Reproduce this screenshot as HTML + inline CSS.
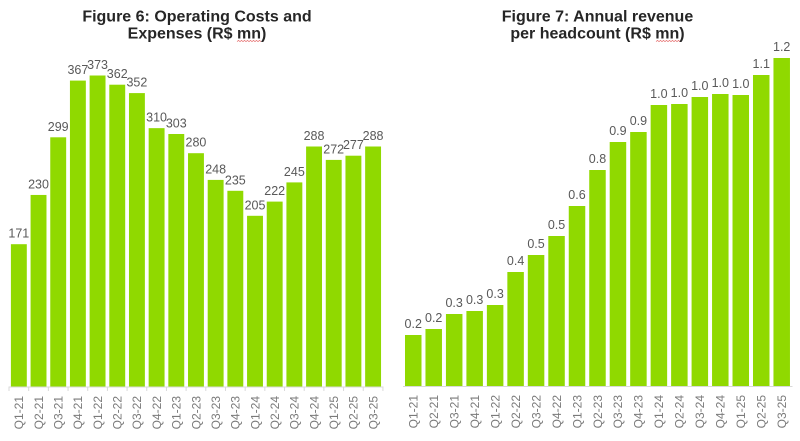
<!DOCTYPE html>
<html>
<head>
<meta charset="utf-8">
<style>
  html,body{margin:0;padding:0;background:#fff;}
  svg{display:block;}
  .t{font-family:"Liberation Sans",Arial,sans-serif;font-weight:bold;font-size:16px;fill:#262626;}
  .v{font-family:"Liberation Sans",Arial,sans-serif;font-size:12.5px;fill:#595959;}
  .x{font-family:"Liberation Sans",Arial,sans-serif;font-size:12px;fill:#7a7a7a;}
  .b{fill:#90d900;}
</style>
</head>
<body>
<svg width="800" height="441" viewBox="0 0 800 441" xmlns="http://www.w3.org/2000/svg">
  <!-- Titles -->
  <text class="t" x="197" y="21.5" text-anchor="middle">Figure 6: Operating Costs and</text>
  <text class="t" x="197" y="38.5" text-anchor="middle">Expenses (R$ mn)</text>
  <polyline points="237,41.5 238.5,40.5 240,41.5 241.5,40.5 243,41.5 244.5,40.5 246,41.5 247.5,40.5 249,41.5 250.5,40.5 252,41.5 253.5,40.5 255,41.5 256.5,40.5 258,41.5 259.5,40.5 261,41.5" fill="none" stroke="#e05050" stroke-width="0.7"/>
  <text class="t" x="597.5" y="21.5" text-anchor="middle">Figure 7: Annual revenue</text>
  <text class="t" x="597.5" y="38.5" text-anchor="middle">per headcount (R$ mn)</text>
  <polyline points="656,41.5 657.5,40.5 659,41.5 660.5,40.5 662,41.5 663.5,40.5 665,41.5 666.5,40.5 668,41.5 669.5,40.5 671,41.5 672.5,40.5 674,41.5 675.5,40.5 677,41.5 678.5,40.5 680,41.5" fill="none" stroke="#e05050" stroke-width="0.7"/>

  <!-- Left chart bars -->
  <g class="b">
    <rect x="10.9" y="244.2" width="15.9" height="142.8"/>
    <rect x="30.58" y="194.95" width="15.9" height="192.05"/>
    <rect x="50.26" y="137.3" width="15.9" height="249.7"/>
    <rect x="69.94" y="80.6" width="15.9" height="306.4"/>
    <rect x="89.62" y="75.5" width="15.9" height="311.5"/>
    <rect x="109.3" y="84.7" width="15.9" height="302.3"/>
    <rect x="128.98" y="93.1" width="15.9" height="293.9"/>
    <rect x="148.66" y="128.15" width="15.9" height="258.85"/>
    <rect x="168.34" y="134.0" width="15.9" height="253.0"/>
    <rect x="188.02" y="153.2" width="15.9" height="233.8"/>
    <rect x="207.7" y="179.9" width="15.9" height="207.1"/>
    <rect x="227.38" y="190.8" width="15.9" height="196.2"/>
    <rect x="247.06" y="215.8" width="15.9" height="171.2"/>
    <rect x="266.74" y="201.6" width="15.9" height="185.4"/>
    <rect x="286.42" y="182.4" width="15.9" height="204.6"/>
    <rect x="306.1" y="146.5" width="15.9" height="240.5"/>
    <rect x="325.78" y="159.9" width="15.9" height="227.1"/>
    <rect x="345.46" y="155.7" width="15.9" height="231.3"/>
    <rect x="365.14" y="146.5" width="15.9" height="240.5"/>
  </g>
  <!-- Left chart value labels -->
  <g class="v" text-anchor="middle">
    <text x="18.84" y="237.7">171</text>
    <text x="38.52" y="188.5">230</text>
    <text x="58.2" y="130.8">299</text>
    <text x="77.88" y="74.1">367</text>
    <text x="97.56" y="69">373</text>
    <text x="117.24" y="78.2">362</text>
    <text x="136.92" y="86.6">352</text>
    <text x="156.6" y="121.7">310</text>
    <text x="176.28" y="127.5">303</text>
    <text x="195.96" y="146.7">280</text>
    <text x="215.64" y="173.4">248</text>
    <text x="235.32" y="184.3">235</text>
    <text x="255.0" y="209.3">205</text>
    <text x="274.68" y="195.1">222</text>
    <text x="294.36" y="175.9">245</text>
    <text x="314.04" y="140">288</text>
    <text x="333.72" y="153.4">272</text>
    <text x="353.4" y="149.2">277</text>
    <text x="373.08" y="140">288</text>
  </g>
  <!-- Left axis -->
  <line x1="8.5" y1="387" x2="383.5" y2="387" stroke="#d9d9d9" stroke-width="1"/>
  <g stroke="#d9d9d9" stroke-width="1">
    <line x1="9" y1="387" x2="9" y2="391"/>
    <line x1="28.68" y1="387" x2="28.68" y2="391"/>
    <line x1="48.36" y1="387" x2="48.36" y2="391"/>
    <line x1="68.04" y1="387" x2="68.04" y2="391"/>
    <line x1="87.72" y1="387" x2="87.72" y2="391"/>
    <line x1="107.4" y1="387" x2="107.4" y2="391"/>
    <line x1="127.08" y1="387" x2="127.08" y2="391"/>
    <line x1="146.76" y1="387" x2="146.76" y2="391"/>
    <line x1="166.44" y1="387" x2="166.44" y2="391"/>
    <line x1="186.12" y1="387" x2="186.12" y2="391"/>
    <line x1="205.8" y1="387" x2="205.8" y2="391"/>
    <line x1="225.48" y1="387" x2="225.48" y2="391"/>
    <line x1="245.16" y1="387" x2="245.16" y2="391"/>
    <line x1="264.84" y1="387" x2="264.84" y2="391"/>
    <line x1="284.52" y1="387" x2="284.52" y2="391"/>
    <line x1="304.2" y1="387" x2="304.2" y2="391"/>
    <line x1="323.88" y1="387" x2="323.88" y2="391"/>
    <line x1="343.56" y1="387" x2="343.56" y2="391"/>
    <line x1="363.24" y1="387" x2="363.24" y2="391"/>
    <line x1="382.92" y1="387" x2="382.92" y2="391"/>
  </g>
  <!-- Left x labels -->
  <g class="x" text-anchor="end">
    <text transform="translate(23.1,396) rotate(-90)">Q1-21</text>
    <text transform="translate(42.8,396) rotate(-90)">Q2-21</text>
    <text transform="translate(62.5,396) rotate(-90)">Q3-21</text>
    <text transform="translate(82.2,396) rotate(-90)">Q4-21</text>
    <text transform="translate(101.9,396) rotate(-90)">Q1-22</text>
    <text transform="translate(121.5,396) rotate(-90)">Q2-22</text>
    <text transform="translate(141.2,396) rotate(-90)">Q3-22</text>
    <text transform="translate(160.9,396) rotate(-90)">Q4-22</text>
    <text transform="translate(180.6,396) rotate(-90)">Q1-23</text>
    <text transform="translate(200.3,396) rotate(-90)">Q2-23</text>
    <text transform="translate(219.9,396) rotate(-90)">Q3-23</text>
    <text transform="translate(239.6,396) rotate(-90)">Q4-23</text>
    <text transform="translate(259.3,396) rotate(-90)">Q1-24</text>
    <text transform="translate(279.0,396) rotate(-90)">Q2-24</text>
    <text transform="translate(298.7,396) rotate(-90)">Q3-24</text>
    <text transform="translate(318.3,396) rotate(-90)">Q4-24</text>
    <text transform="translate(338.0,396) rotate(-90)">Q1-25</text>
    <text transform="translate(357.7,396) rotate(-90)">Q2-25</text>
    <text transform="translate(377.4,396) rotate(-90)">Q3-25</text>
  </g>

  <!-- Right chart bars -->
  <g class="b">
    <rect x="405" y="335" width="16.5" height="51"/>
    <rect x="425.47" y="329" width="16.5" height="57"/>
    <rect x="445.94" y="314" width="16.5" height="72"/>
    <rect x="466.41" y="311" width="16.5" height="75"/>
    <rect x="486.88" y="305" width="16.5" height="81"/>
    <rect x="507.35" y="272" width="16.5" height="114"/>
    <rect x="527.82" y="255" width="16.5" height="131"/>
    <rect x="548.29" y="236" width="16.5" height="150"/>
    <rect x="568.76" y="206" width="16.5" height="180"/>
    <rect x="589.23" y="170" width="16.5" height="216"/>
    <rect x="609.7" y="142" width="16.5" height="244"/>
    <rect x="630.17" y="132" width="16.5" height="254"/>
    <rect x="650.64" y="105" width="16.5" height="281"/>
    <rect x="671.11" y="104" width="16.5" height="282"/>
    <rect x="691.58" y="97" width="16.5" height="289"/>
    <rect x="712.05" y="94" width="16.5" height="292"/>
    <rect x="732.52" y="95" width="16.5" height="291"/>
    <rect x="752.99" y="75" width="16.5" height="311"/>
    <rect x="773.46" y="58" width="16.5" height="328"/>
  </g>
  <!-- Right value labels -->
  <g class="v" text-anchor="middle">
    <text x="413.24" y="328">0.2</text>
    <text x="433.71" y="322">0.2</text>
    <text x="454.18" y="307">0.3</text>
    <text x="474.65" y="304">0.3</text>
    <text x="495.12" y="298">0.3</text>
    <text x="515.59" y="265">0.4</text>
    <text x="536.06" y="248">0.5</text>
    <text x="556.53" y="229">0.5</text>
    <text x="577.0" y="199">0.6</text>
    <text x="597.47" y="163">0.8</text>
    <text x="617.94" y="135">0.9</text>
    <text x="638.41" y="125">0.9</text>
    <text x="658.88" y="98">1.0</text>
    <text x="679.35" y="97">1.0</text>
    <text x="699.82" y="90">1.0</text>
    <text x="720.29" y="87">1.0</text>
    <text x="740.76" y="88">1.0</text>
    <text x="761.23" y="68">1.1</text>
    <text x="781.7" y="51">1.2</text>
  </g>
  <!-- Right axis -->
  <line x1="403" y1="386.5" x2="792.5" y2="386.5" stroke="#d9d9d9" stroke-width="1"/>
  <!-- Right x labels -->
  <g class="x" text-anchor="end">
    <text transform="translate(417.5,395) rotate(-90)">Q1-21</text>
    <text transform="translate(438.0,395) rotate(-90)">Q2-21</text>
    <text transform="translate(458.5,395) rotate(-90)">Q3-21</text>
    <text transform="translate(479.0,395) rotate(-90)">Q4-21</text>
    <text transform="translate(499.4,395) rotate(-90)">Q1-22</text>
    <text transform="translate(519.9,395) rotate(-90)">Q2-22</text>
    <text transform="translate(540.4,395) rotate(-90)">Q3-22</text>
    <text transform="translate(560.8,395) rotate(-90)">Q4-22</text>
    <text transform="translate(581.3,395) rotate(-90)">Q1-23</text>
    <text transform="translate(601.8,395) rotate(-90)">Q2-23</text>
    <text transform="translate(622.2,395) rotate(-90)">Q3-23</text>
    <text transform="translate(642.7,395) rotate(-90)">Q4-23</text>
    <text transform="translate(663.2,395) rotate(-90)">Q1-24</text>
    <text transform="translate(683.7,395) rotate(-90)">Q2-24</text>
    <text transform="translate(704.1,395) rotate(-90)">Q3-24</text>
    <text transform="translate(724.6,395) rotate(-90)">Q4-24</text>
    <text transform="translate(745.1,395) rotate(-90)">Q1-25</text>
    <text transform="translate(765.5,395) rotate(-90)">Q2-25</text>
    <text transform="translate(786.0,395) rotate(-90)">Q3-25</text>
  </g>
</svg>
</body>
</html>
